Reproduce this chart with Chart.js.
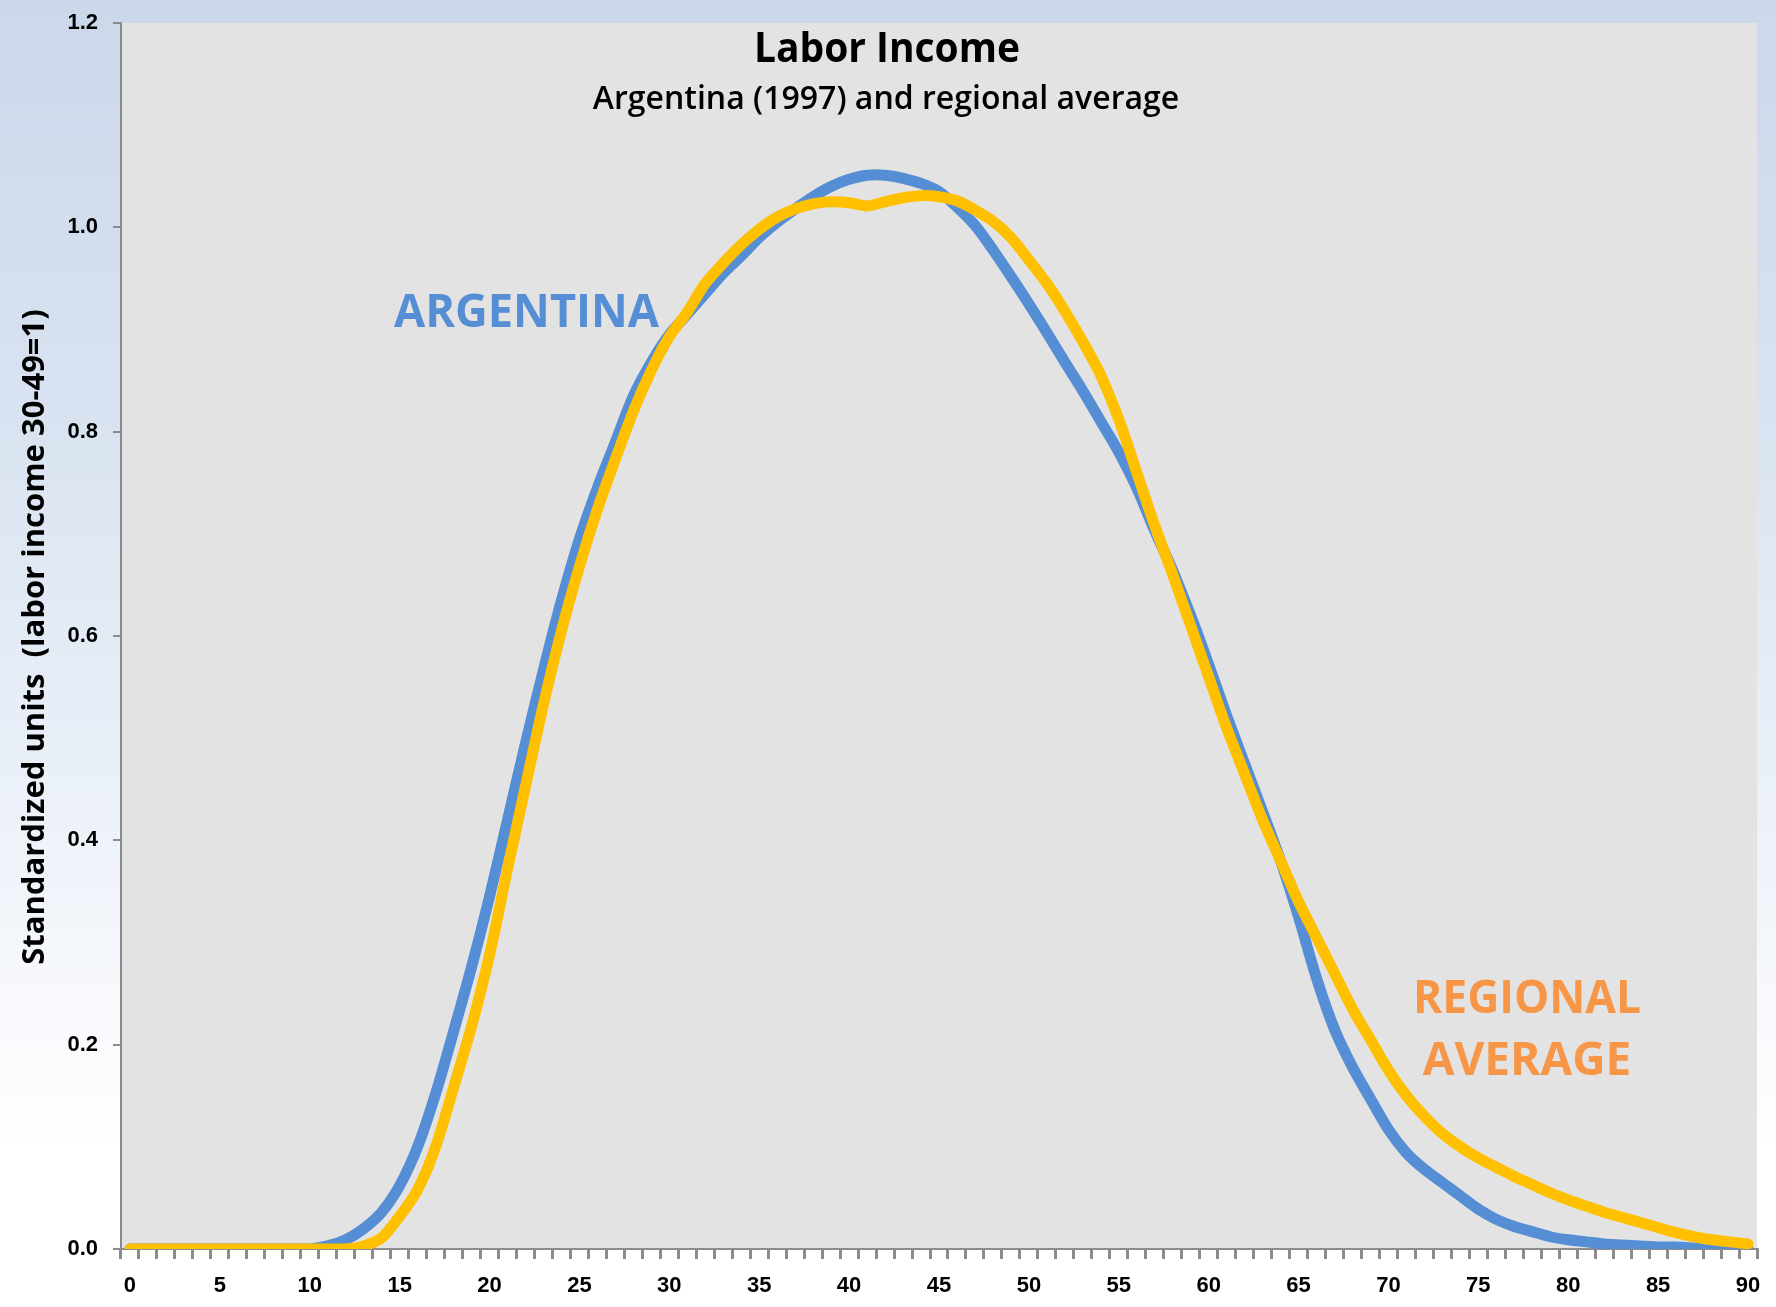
<!DOCTYPE html>
<html>
<head>
<meta charset="utf-8">
<title>Labor Income</title>
<script src="https://cdn.jsdelivr.net/npm/chart.js@4/dist/chart.umd.min.js"></script>
<style>
  html, body { margin: 0; padding: 0; background: #ffffff; }
  #wrap { width: 1776px; height: 1307px; }
</style>
</head>
<body>
<div id="wrap"><canvas id="laborChart" width="1776" height="1307"></canvas></div>
<script>
// Labor income age profiles, standardized so that ages 30-49 average 1.

const ages = [
  0, 1, 2, 3, 4, 5, 6, 7, 8, 9, 10, 11, 12, 13, 14, 15, 16, 17, 18, 19, 20,
  21, 22, 23, 24, 25, 26, 27, 28, 29, 30, 31, 32, 33, 34, 35, 36, 37, 38, 39, 40,
  41, 42, 43, 44, 45, 46, 47, 48, 49, 50, 51, 52, 53, 54, 55, 56, 57, 58, 59, 60,
  61, 62, 63, 64, 65, 66, 67, 68, 69, 70, 71, 72, 73, 74, 75, 76, 77, 78, 79, 80,
  81, 82, 83, 84, 85, 86, 87, 88, 89, 90,
];

const argentina = [
  0, 0, 0, 0, 0, 0, 0, 0, 0, 0, 0,
  0.003, 0.009, 0.02, 0.036, 0.062, 0.1, 0.152, 0.213, 0.276, 0.345,
  0.42, 0.495, 0.567, 0.635, 0.695, 0.745, 0.79, 0.835, 0.868, 0.895,
  0.915, 0.935, 0.955, 0.972, 0.99, 1.005, 1.018, 1.03, 1.04, 1.047,
  1.051, 1.051, 1.048, 1.043, 1.035, 1.02, 1.002, 0.978, 0.952, 0.925,
  0.897, 0.868, 0.84, 0.81, 0.78, 0.745, 0.703, 0.664, 0.62, 0.572,
  0.522, 0.475, 0.428, 0.38, 0.325, 0.265, 0.215, 0.178, 0.147, 0.117,
  0.094, 0.078, 0.065, 0.052, 0.039, 0.029, 0.022, 0.017, 0.012, 0.009,
  0.007, 0.005, 0.004, 0.003, 0.002, 0.002, 0.001, 0.001, 0.001, 0,
];

const regional = [
  0, 0, 0, 0, 0, 0, 0, 0, 0, 0, 0, 0, 0,
  0.003, 0.011, 0.032, 0.058, 0.1, 0.158, 0.218, 0.288,
  0.372, 0.453, 0.533, 0.605, 0.668, 0.724, 0.773, 0.82, 0.86, 0.893,
  0.917, 0.945, 0.965, 0.983, 0.998, 1.01, 1.018, 1.023, 1.025, 1.024,
  1.021, 1.025, 1.029, 1.031, 1.03, 1.026, 1.017, 1.006, 0.99, 0.968,
  0.945, 0.918, 0.888, 0.855, 0.812, 0.76, 0.708, 0.66, 0.61, 0.56,
  0.51, 0.465, 0.42, 0.38, 0.34, 0.305, 0.27, 0.235, 0.205, 0.175,
  0.15, 0.13, 0.113, 0.1, 0.089, 0.08, 0.071, 0.063, 0.055, 0.048,
  0.042, 0.036, 0.031, 0.026, 0.021, 0.016, 0.012, 0.009, 0.007, 0.005,
];

const yTicks = [0, 0.2, 0.4, 0.6, 0.8, 1.0, 1.2];

const BLUE = '#558ed5';
const GOLD = '#ffc000';
const ORANGE = '#f79646';
const AXIS_GRAY = '#8c8c8c';
const TEXT_FONT = '"Open Sans", "Liberation Sans", sans-serif';
const TICK_FONT = { family: '"Liberation Sans", Arial, sans-serif', size: 22, weight: 'bold' };

// Slide-style backdrop: pale blue wash fading to white, grey plot panel.
const slideBackground = {
  id: 'slideBackground',
  beforeDraw(chart) {
    const { ctx, width, height, chartArea: a } = chart;
    ctx.save();
    const g = ctx.createLinearGradient(0, 0, 0, height);
    g.addColorStop(0, '#cbd8ea');
    g.addColorStop(0.3, '#d8e2f0');
    g.addColorStop(0.55, '#e7eef7');
    g.addColorStop(0.75, '#f6f8fc');
    g.addColorStop(0.88, '#ffffff');
    ctx.fillStyle = g;
    ctx.fillRect(0, 0, width, height);
    ctx.fillStyle = '#e3e3e3';
    ctx.fillRect(a.left, a.top, a.right - a.left, a.bottom - a.top);
    ctx.restore();
  },
};

// Titles and series callouts sit inside the plot panel, under the lines.
function text(ctx, str, x, y, font, color, align, maxWidth) {
  ctx.font = font;
  ctx.fillStyle = color;
  ctx.textAlign = align;
  ctx.fillText(str, x, y, maxWidth);
}

const annotations = {
  id: 'annotations',
  beforeDatasetsDraw(chart) {
    const { ctx } = chart;
    ctx.save();
    ctx.textBaseline = 'alphabetic';
    text(ctx, 'Labor Income', 887, 62, `bold 42px ${TEXT_FONT}`, '#000', 'center', 266);
    text(ctx, 'Argentina (1997) and regional average', 886, 109, `600 32px ${TEXT_FONT}`, '#000', 'center', 588);
    text(ctx, 'ARGENTINA', 394, 327, `bold 46px ${TEXT_FONT}`, BLUE, 'left', 265);
    text(ctx, 'REGIONAL', 1527, 1013, `bold 46px ${TEXT_FONT}`, ORANGE, 'center', 228);
    text(ctx, 'AVERAGE', 1527, 1075, `bold 46px ${TEXT_FONT}`, ORANGE, 'center', 210);

    // rotated y-axis caption
    ctx.translate(35, 637);
    ctx.rotate(-Math.PI / 2);
    ctx.textBaseline = 'middle';
    text(ctx, 'Standardized units  (labor income 30-49=1)', 0, 0, `bold 31px ${TEXT_FONT}`, '#000', 'center', 662);
    ctx.restore();
  },
};

new Chart(document.getElementById('laborChart').getContext('2d'), {
  type: 'line',
  data: {
    labels: ages,
    datasets: [
      {
        label: 'Regional average',
        data: regional,
        borderColor: GOLD,
        borderWidth: 11,
        pointRadius: 0,
        tension: 0.3,
        borderCapStyle: 'round',
        borderJoinStyle: 'round',
        order: 0,
      },
      {
        label: 'Argentina',
        data: argentina,
        borderColor: BLUE,
        borderWidth: 11,
        pointRadius: 0,
        tension: 0.3,
        borderCapStyle: 'round',
        borderJoinStyle: 'round',
        order: 1,
      },
    ],
  },
  options: {
    responsive: false,
    devicePixelRatio: 1,
    animation: false,
    layout: { padding: { top: 23, right: 19, left: 0, bottom: 0 } },
    plugins: {
      legend: { display: false },
      tooltip: { enabled: false },
    },
    scales: {
      x: {
        type: 'category',
        offset: true,
        border: { color: AXIS_GRAY, width: 2 },
        grid: { offset: true, drawOnChartArea: false, drawTicks: true, tickLength: 10, color: AXIS_GRAY, lineWidth: 3 },
        ticks: {
          autoSkip: false,
          maxRotation: 0,
          padding: 14,
          color: '#000',
          font: TICK_FONT,
          callback: (v, i) => (ages[i] % 5 === 0 ? String(ages[i]) : ''),
        },
        afterFit: (scale) => { scale.height = 58; },
      },
      y: {
        min: 0,
        max: 1.2,
        border: { color: AXIS_GRAY, width: 2 },
        grid: { drawOnChartArea: false, drawTicks: true, tickLength: 8, color: AXIS_GRAY, lineWidth: 2 },
        afterBuildTicks: (scale) => { scale.ticks = yTicks.map((v) => ({ value: v })); },
        ticks: {
          padding: 15,
          color: '#000',
          // small line height keeps the top label from pushing the plot down
          font: { ...TICK_FONT, lineHeight: 0.6 },
          callback: (v) => Number(v).toFixed(1),
        },
        afterFit: (scale) => { scale.width = 121; },
      },
    },
  },
  plugins: [slideBackground, annotations],
});
</script>
</body>
</html>
